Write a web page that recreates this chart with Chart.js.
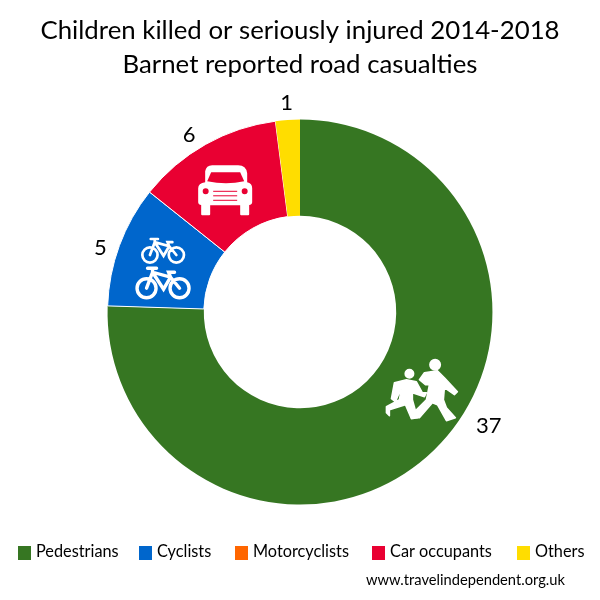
<!DOCTYPE html>
<html>
<head>
<meta charset="utf-8">
<style>
  html, body { margin: 0; padding: 0; background: #fff; }
  #wrap { width: 600px; height: 600px; }
</style>
<script src="https://cdn.jsdelivr.net/npm/chart.js@4/dist/chart.umd.js"></script>
</head>
<body>
<div id="wrap"><canvas id="myChart" width="600" height="600"></canvas></div>
<script>
const titleLines = ['Children killed or seriously injured 2014-2018', 'Barnet reported road casualties'];
const categories = ['Pedestrians', 'Cyclists', 'Motorcyclists', 'Car occupants', 'Others'];
const casualties = [37, 5, 0, 6, 1];
const colours = ['#367622', '#0066CC', '#FF6600', '#E90032', '#FFDD00'];
const creditText = 'www.travelindependent.org.uk';

const FONT = 'Lato, sans-serif';

// legend spacing in the original is uneven, so x of each swatch is listed
const legendX = [18, 139, 235, 372, 517];
// nudges from the default label spot (outside the middle of the slice)
const labelNudge = [[43, -37], [-3, 8], [0, 0], [-8, 5], [0, 0]];

// icon outlines, pixels relative to the icon centre
const bigChild = [[3,-17],[16,-19],[23,-12],[36,2],[33,5],[23,-2],[22,10],[25,18],[34,28],[25,31],[16,15],[11,13],[-2,28],[-10,28],[-5,20],[5,10],[8,-5],[4,-5],[-2,-10]];
const smallChild = [[-27,-7],[-15,-10],[-5,-8],[1,3],[5,3],[3,7],[-9,3],[-9,10],[-4,28],[-10,29],[-16,15],[-32,20],[-32,26],[-35,23],[-35,17],[-22,10],[-20,-2],[-26,12],[-30,9]];

function drawCar(ctx, cx, cy, col) {
  ctx.save();
  ctx.translate(cx, cy);
  ctx.fillStyle = '#fff';
  ctx.beginPath();
  ctx.roundRect(-24, 13, 9, 12, 1);
  ctx.roundRect(15, 13, 9, 12, 1);
  ctx.fill();
  ctx.beginPath();
  ctx.moveTo(-20, -8);
  ctx.lineTo(-20, -19);
  ctx.quadraticCurveTo(-19, -25, -13, -25);
  ctx.lineTo(13, -25);
  ctx.quadraticCurveTo(21, -25, 22, -17);
  ctx.lineTo(22, -8);
  ctx.quadraticCurveTo(27, -7, 27, -2);
  ctx.lineTo(27, 12);
  ctx.quadraticCurveTo(27, 15, 22, 15);
  ctx.lineTo(-22, 15);
  ctx.quadraticCurveTo(-27, 15, -27, 12);
  ctx.lineTo(-27, -2);
  ctx.quadraticCurveTo(-27, -7, -20, -8);
  ctx.fill();
  ctx.fillStyle = col;
  ctx.beginPath();
  ctx.moveTo(-18, -9);
  ctx.lineTo(-14, -18);
  ctx.lineTo(15, -18);
  ctx.lineTo(19, -9);
  ctx.quadraticCurveTo(1, -5, -18, -9);
  ctx.fill();
  ctx.beginPath();
  ctx.arc(-19.5, 1, 3, 0, Math.PI * 2);
  ctx.arc(19.5, 1, 3, 0, Math.PI * 2);
  ctx.fill();
  ctx.fillRect(-12, 0.5, 24, 1);
  ctx.fillRect(-12, 5, 24, 1);
  ctx.fillRect(-12, 9.5, 24, 1);
  ctx.restore();
}

function drawBike(ctx, cx, cy, s) {
  ctx.save();
  ctx.translate(cx, cy);
  ctx.scale(s, s);
  ctx.strokeStyle = '#fff';
  ctx.lineWidth = 3.4;
  ctx.lineCap = 'round';
  ctx.beginPath();
  ctx.arc(-17, 6, 9.5, 0, Math.PI * 2);
  ctx.moveTo(25.5, 6);
  ctx.arc(16, 6, 9.5, 0, Math.PI * 2);
  // frame
  ctx.moveTo(-17, 6);
  ctx.lineTo(-11, -10);
  ctx.lineTo(7, -5);
  ctx.lineTo(16, 6);
  ctx.moveTo(-11, -10);
  ctx.lineTo(0, 7);
  ctx.lineTo(7, -5);
  ctx.moveTo(7, -5);
  ctx.lineTo(5, -10);
  ctx.lineTo(11, -10);
  ctx.moveTo(-16, -14);
  ctx.lineTo(-7, -14);
  ctx.moveTo(-11, -14);
  ctx.lineTo(-11, -10);
  ctx.stroke();
  ctx.restore();
}

function drawChildren(ctx, cx, cy) {
  ctx.save();
  ctx.translate(cx, cy);
  ctx.fillStyle = '#fff';
  ctx.strokeStyle = '#fff';
  ctx.lineWidth = 1.5;
  ctx.lineJoin = 'round';
  [bigChild, smallChild].forEach(shape => {
    ctx.beginPath();
    shape.forEach((p, i) => i ? ctx.lineTo(p[0], p[1]) : ctx.moveTo(p[0], p[1]));
    ctx.closePath();
    ctx.fill();
    ctx.stroke();
  });
  ctx.beginPath();
  ctx.arc(13.7, -25, 6, 0, Math.PI * 2);
  ctx.arc(-12, -16, 5, 0, Math.PI * 2);
  ctx.fill();
  ctx.restore();
}

// slice numbers, icons, and the hand spaced legend
const extras = {
  id: 'extras',
  afterDraw(chart) {
    const ctx = chart.ctx;
    const arcs = chart.getDatasetMeta(0).data;
    ctx.save();

    // icons sit relative to their slice
    const car = arcs[3].getCenterPoint();
    drawCar(ctx, car.x - 4, car.y + 4, colours[3]);
    const bike = arcs[1].getCenterPoint();
    drawBike(ctx, bike.x - 1, bike.y - 12, 0.8);
    drawBike(ctx, bike.x - 1, bike.y + 20, 1);
    const ped = arcs[0].getCenterPoint();
    drawChildren(ctx, ped.x + 21, ped.y - 26);

    // value labels
    ctx.fillStyle = '#000';
    ctx.font = '22px ' + FONT;
    ctx.textAlign = 'center';
    ctx.textBaseline = 'middle';
    arcs.forEach((arc, i) => {
      if (!casualties[i]) return;
      const mid = (arc.startAngle + arc.endAngle) / 2;
      const r = arc.outerRadius + 17;
      ctx.fillText(casualties[i], arc.x + Math.cos(mid) * r + labelNudge[i][0], arc.y + Math.sin(mid) * r + labelNudge[i][1]);
    });

    // legend
    ctx.textAlign = 'left';
    ctx.font = '16.3px ' + FONT;
    categories.forEach((name, i) => {
      ctx.fillStyle = colours[i];
      ctx.fillRect(legendX[i], 546, 13, 14);
      ctx.fillStyle = '#000';
      ctx.fillText(name, legendX[i] + 18, 552);
    });

    ctx.font = '14.7px ' + FONT;
    ctx.fillText(creditText, 366, 580);
    ctx.restore();
  }
};

new Chart(document.getElementById('myChart').getContext('2d'), {
  type: 'doughnut',
  data: {
    labels: categories,
    datasets: [{
      data: casualties,
      backgroundColor: colours,
      borderColor: '#fff',
      borderWidth: [0, 1, 0, 1, 0]
    }]
  },
  options: {
    responsive: false,
    animation: false,
    cutout: '50%',
    layout: { padding: { bottom: 95 } },
    plugins: {
      legend: { display: false },
      tooltip: { enabled: false },
      title: {
        display: true,
        text: titleLines,
        color: '#000',
        font: { family: FONT, size: 25.8, weight: 'normal', lineHeight: 1.32 },
        padding: { top: 14, bottom: 37 }
      }
    }
  },
  plugins: [extras]
});
</script>
</body>
</html>
